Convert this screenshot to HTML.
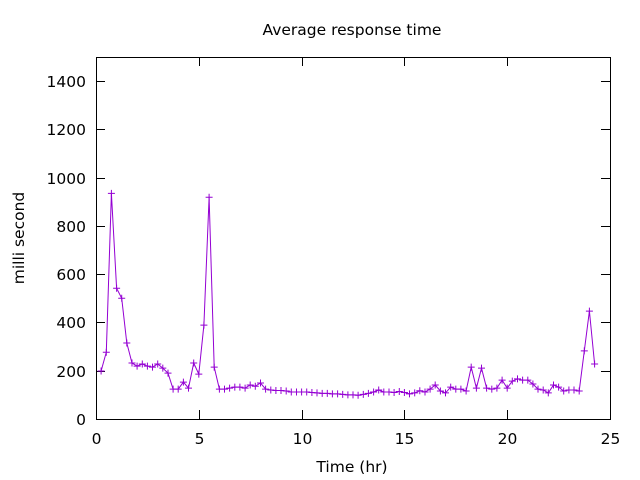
<!DOCTYPE html>
<html><head><meta charset="utf-8"><style>
html,body{margin:0;padding:0;background:#fff}
svg{display:block;font-family:"DejaVu Sans","Liberation Sans",sans-serif;font-size:15.5px}
</style></head><body>
<svg id="s" width="640" height="480" xmlns="http://www.w3.org/2000/svg">
<rect width="640" height="480" fill="#fff"/>
<text x="352" y="35" text-anchor="middle">Average response time</text>
<text x="352" y="472" text-anchor="middle">Time (hr)</text>
<text transform="translate(24,238) rotate(-90)" text-anchor="middle">milli second</text>
<g id="ax" stroke="#000" stroke-width="1" fill="none"></g>
<g id="lab"></g>
<g id="plot"></g>
</svg>
<script>
var X0=96,X1=610,Y0=419,YT=57;
function px(t){return X0+(X1-X0)*t/25}
function py(v){return Y0-(Y0-YT)*v/1500}
var ax=document.getElementById('ax'),lab=document.getElementById('lab'),pl=document.getElementById('plot');
var NS='http://www.w3.org/2000/svg';
function el(p,n,a,t){var e=document.createElementNS(NS,n);for(var k in a)e.setAttribute(k,a[k]);if(t!=null)e.textContent=t;p.appendChild(e);return e}
el(ax,'rect',{x:X0+.5,y:YT+.5,width:X1-X0,height:Y0-YT});
var d='';
for(var v=0;v<=1400;v+=200){var y=Math.round(py(v))+.5;d+='M'+(X0)+' '+y+'h9M'+X1+' '+y+'h-9';
el(lab,'text',{x:86,y:y+5.5,'text-anchor':'end'},String(v));}
for(var t=0;t<=25;t+=5){var x=Math.round(px(t))+.5;d+='M'+x+' '+Y0+'v-9M'+x+' '+YT+'v9';
el(lab,'text',{x:x,y:444,'text-anchor':'middle'},String(t));}
el(ax,'path',{d:d});
var vals=[199,277,935,542,500,315,232,219,228,219,215,228,211,190,124,124,153,128,232,186,389,919,215,124,124,128,132,132,128,141,136,149,124,
120,118,118,116,112,112,112,112,110,108,106,106,104,104,102,100,100,98,102,106,112,120,112,112,110,114,110,104,108,117,112,
124,141,116,108,132,124,124,116,215,128,211,128,124,128,161,128,157,166,161,161,145,124,120,108,141,132,116,120,120,116,282,447,228];
var pts=[];for(var i=0;i<vals.length;i++){pts.push([px(0.25*(i+1)),py(vals[i])]);}
var pd='M'+pts.map(function(p){return p[0].toFixed(1)+' '+p[1].toFixed(1)}).join('L');
el(pl,'path',{d:pd,stroke:'#9400d3',fill:'none','stroke-width':1});
var cd='';pts.forEach(function(p){cd+='M'+(p[0]-3.5).toFixed(1)+' '+p[1].toFixed(1)+'h7M'+p[0].toFixed(1)+' '+(p[1]-3.5).toFixed(1)+'v7'});
el(pl,'path',{d:cd,stroke:'#9400d3',fill:'none','stroke-width':1});
</script>
</body></html>
